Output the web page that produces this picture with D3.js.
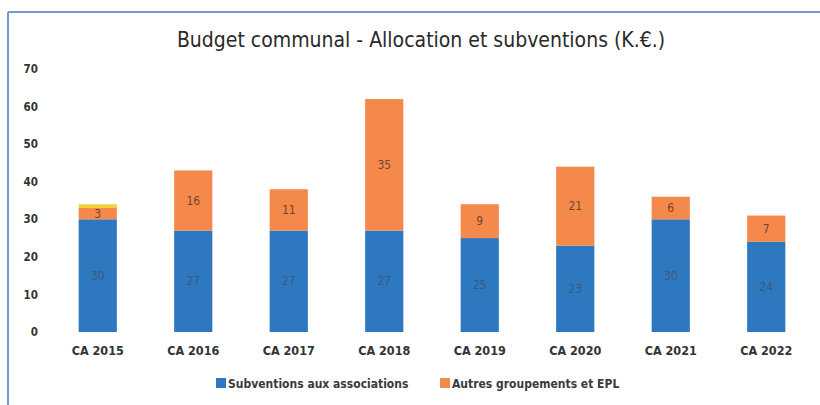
<!DOCTYPE html>
<html lang="fr">
<head>
<meta charset="utf-8">
<script src="https://cdnjs.cloudflare.com/ajax/libs/d3/7.8.5/d3.min.js"></script>
<style>
  body { margin: 0; background: #fff; }
  svg { display: block; font-family: "Open Sans", "DejaVu Sans", sans-serif; }
</style>
</head>
<body>
<svg width="820" height="405"></svg>
<script>
// data
var years = ["CA 2015", "CA 2016", "CA 2017", "CA 2018", "CA 2019", "CA 2020", "CA 2021", "CA 2022"];
var subventions = [30, 27, 27, 27, 25, 23, 30, 24];
var autres = [3, 16, 11, 35, 9, 21, 6, 7];
var divers = [1, 0, 0, 0, 0, 0, 0, 0];   // small yellow slice on 2015
var yTicks = [0, 10, 20, 30, 40, 50, 60, 70];

var series = [
    { name: "Subventions aux associations", values: subventions, color: "#2e78c0", text: "#3f5670", legend: true },
    { name: "Autres groupements et EPL", values: autres, color: "#f5894c", text: "#5a3a2a", legend: true },
    { name: "", values: divers, color: "#f2cf3c", text: "#5a3a2a", legend: false }
];

var svg = d3.select("svg");

// frame of the chart
svg.append("line").attr("x1", 8).attr("x2", 820).attr("y1", 12).attr("y2", 12)
    .attr("stroke", "#6f9bd2").attr("stroke-width", 2);
svg.append("line").attr("x1", 8).attr("x2", 8).attr("y1", 12).attr("y2", 405)
    .attr("stroke", "#6f9bd2").attr("stroke-width", 2);

svg.append("text")
    .attr("x", 421).attr("y", 47)
    .attr("text-anchor", "middle")
    .attr("font-size", "21px")
    .attr("fill", "#2a2a2a")
    .style("font-family", "'DejaVu Sans Condensed', 'Open Sans', sans-serif")
    .text("Budget communal - Allocation et subventions (K.€.)");

var x = d3.scaleBand().domain(years).range([50, 814]).paddingInner(0.6).paddingOuter(0.3);
var y = d3.scaleLinear().domain([0, 70]).range([332, 69]);

// y axis labels
var yAxis = svg.append("g").attr("transform", "translate(38,0)")
    .call(d3.axisLeft(y).tickValues(yTicks).tickSize(0).tickPadding(0));
yAxis.select(".domain").remove();
yAxis.selectAll("text")
    .attr("font-size", "11.5px").attr("font-weight", "bold").attr("fill", "#333")
    .style("font-family", "'DejaVu Sans Condensed', sans-serif");

// x axis labels
var xAxis = svg.append("g").attr("transform", "translate(0,340)")
    .call(d3.axisBottom(x).tickSize(0).tickPadding(6));
xAxis.select(".domain").remove();
xAxis.selectAll("text")
    .attr("font-size", "12.5px").attr("font-weight", "bold").attr("fill", "#333")
    .style("font-family", "'DejaVu Sans Condensed', sans-serif");

// stacked bars
var base = years.map(function() { return 0; });
series.forEach(function(s) {
    var g = svg.append("g");
    years.forEach(function(yr, i) {
        var v = s.values[i];
        if (!v) return;
        var y0 = base[i], y1 = base[i] + v;
        g.append("rect")
            .attr("x", x(yr))
            .attr("y", y(y1))
            .attr("width", x.bandwidth())
            .attr("height", y(y0) - y(y1))
            .attr("fill", s.color);
        if (s.legend) {
            g.append("text")
                .attr("x", x(yr) + x.bandwidth() / 2)
                .attr("y", (y(y0) + y(y1)) / 2 + 4)
                .attr("text-anchor", "middle")
                .attr("font-size", "12px")
                .attr("fill", s.text)
                .attr("opacity", 0.85)
                .style("font-family", "'DejaVu Sans Condensed', sans-serif")
                .text(v);
        }
        base[i] = y1;
    });
});

// legend
var legendX = [216, 440];
series.filter(function(s) { return s.legend; }).forEach(function(s, i) {
    var lg = svg.append("g").attr("transform", "translate(" + legendX[i] + ",383)");
    lg.append("rect").attr("x", 0).attr("y", -5).attr("width", 10).attr("height", 10).attr("fill", s.color);
    lg.append("text").attr("x", 12).attr("y", 5)
        .attr("font-size", "12px").attr("font-weight", "bold").attr("fill", "#3a3a3a")
        .style("font-family", "'DejaVu Sans Condensed', sans-serif")
        .text(s.name);
});
</script>
</body>
</html>
